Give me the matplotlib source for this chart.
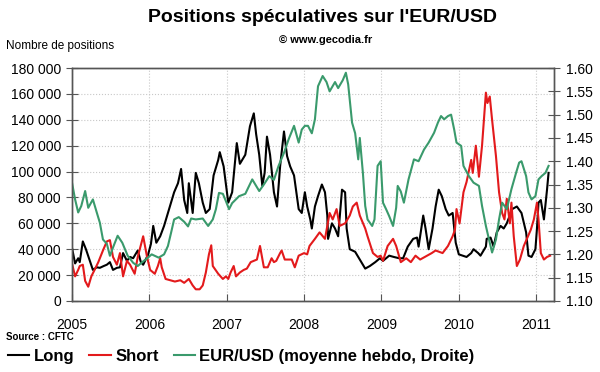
import matplotlib
matplotlib.use("Agg")
from matplotlib import pyplot as plt
from matplotlib.ticker import FuncFormatter, FixedLocator

plt.rcParams["font.family"] = ["Liberation Sans", "DejaVu Sans"]

# Long positions (milliers de contrats)
long_t = [2005.00, 2005.04, 2005.08, 2005.10, 2005.14, 2005.18, 2005.22, 2005.27, 2005.32, 2005.36,
          2005.41, 2005.45, 2005.49, 2005.53, 2005.58, 2005.62, 2005.66, 2005.71, 2005.75, 2005.79,
          2005.83, 2005.85, 2005.89, 2005.92, 2005.96, 2005.98, 2006.02, 2006.05, 2006.09, 2006.14,
          2006.19, 2006.24, 2006.28, 2006.32, 2006.37, 2006.41, 2006.45, 2006.49, 2006.51, 2006.56,
          2006.60, 2006.64, 2006.69, 2006.73, 2006.78, 2006.83, 2006.89, 2006.91, 2006.96, 2007.02,
          2007.07, 2007.11, 2007.13, 2007.17, 2007.24, 2007.30, 2007.35, 2007.38, 2007.42, 2007.46,
          2007.49, 2007.52, 2007.56, 2007.61, 2007.65, 2007.69, 2007.74, 2007.78, 2007.82, 2007.87,
          2007.93, 2007.97, 2008.01, 2008.04, 2008.08, 2008.10, 2008.14, 2008.18, 2008.23, 2008.27,
          2008.30, 2008.31, 2008.36, 2008.40, 2008.44, 2008.49, 2008.53, 2008.55, 2008.59, 2008.66,
          2008.72, 2008.79, 2008.85, 2008.92, 2008.98, 2009.02, 2009.10, 2009.16, 2009.23, 2009.28,
          2009.30, 2009.34, 2009.41, 2009.46, 2009.48, 2009.54, 2009.57, 2009.61, 2009.66, 2009.70,
          2009.74, 2009.78, 2009.83, 2009.87, 2009.92, 2009.96, 2010.00, 2010.05, 2010.10, 2010.16,
          2010.19, 2010.25, 2010.28, 2010.35, 2010.36, 2010.41, 2010.45, 2010.49, 2010.54, 2010.58,
          2010.62, 2010.69, 2010.75, 2010.81, 2010.87, 2010.90, 2010.94, 2010.99, 2011.01, 2011.03,
          2011.06, 2011.10, 2011.14, 2011.16]
long_v = [41, 29, 33, 30, 46, 40, 33, 24, 26, 25.6,
          27, 28, 30, 24, 25.6, 26, 37, 31, 34, 33,
          37, 39, 30, 28, 33, 35, 44, 58, 45, 50,
          58, 68, 76, 84, 91, 102, 78, 68, 91, 68,
          99, 91, 76, 68, 71, 97, 109, 115, 104, 76,
          84, 109, 122, 106, 113, 135, 145, 129, 113, 89,
          99, 127, 113, 84, 73, 104, 131, 112, 104, 97,
          71, 68, 84, 73, 63, 56, 73, 81, 90, 84,
          66, 48, 60, 56, 50, 86, 84, 56, 40, 38,
          32, 25, 27, 30, 33, 31, 35, 34, 33, 33,
          36, 42, 48, 49, 42, 66, 56, 40, 56, 73,
          86, 81, 71, 66, 68, 45, 36, 35, 34, 37,
          40, 37, 35, 42, 48, 49, 42, 53, 58, 56,
          60, 71, 73, 68, 53, 35, 34, 40, 56, 76,
          78, 63, 86, 99]

# Short positions
short_t = [2005.00, 2005.04, 2005.08, 2005.10, 2005.14, 2005.17, 2005.21, 2005.25, 2005.30, 2005.34,
           2005.40, 2005.45, 2005.49, 2005.53, 2005.58, 2005.62, 2005.66, 2005.71, 2005.75, 2005.81,
           2005.85, 2005.92, 2005.97, 2006.01, 2006.07, 2006.11, 2006.14, 2006.16, 2006.21, 2006.27,
           2006.33, 2006.40, 2006.45, 2006.49, 2006.51, 2006.56, 2006.60, 2006.65, 2006.69, 2006.73,
           2006.77, 2006.80, 2006.82, 2006.89, 2006.95, 2006.99, 2007.02, 2007.05, 2007.09, 2007.12,
           2007.17, 2007.22, 2007.26, 2007.31, 2007.39, 2007.43, 2007.48, 2007.53, 2007.58, 2007.61,
           2007.64, 2007.69, 2007.71, 2007.75, 2007.84, 2007.88, 2007.93, 2008.00, 2008.04, 2008.07,
           2008.14, 2008.20, 2008.27, 2008.33, 2008.37, 2008.42, 2008.46, 2008.53, 2008.59, 2008.63,
           2008.68, 2008.72, 2008.79, 2008.82, 2008.89, 2008.95, 2008.99, 2009.02, 2009.08, 2009.15,
           2009.19, 2009.25, 2009.32, 2009.38, 2009.44, 2009.50, 2009.59, 2009.65, 2009.70, 2009.79,
           2009.86, 2009.92, 2009.95, 2009.97, 2010.01, 2010.06, 2010.10, 2010.16, 2010.18, 2010.22,
           2010.26, 2010.30, 2010.35, 2010.37, 2010.40, 2010.43, 2010.48, 2010.52, 2010.56, 2010.59,
           2010.62, 2010.66, 2010.68, 2010.71, 2010.75, 2010.79, 2010.84, 2010.88, 2010.93, 2010.97,
           2011.01, 2011.03, 2011.06, 2011.10, 2011.14, 2011.18]
short_v = [29, 19, 24, 27, 28, 15.5, 11, 19, 25, 30,
           39, 46, 47, 34, 28, 37, 19, 31, 28, 21,
           34, 50, 34, 24, 21, 27, 33, 26, 17, 16,
           15, 16, 14, 16, 17, 12, 9, 9, 12, 22,
           36, 43, 27, 21, 17, 19, 17, 22, 27, 19,
           22, 24, 25, 30, 32, 42.5, 26, 26, 33, 30,
           31, 37, 39, 32, 32, 26, 35, 37, 36, 42.5,
           48, 53, 48, 68, 63, 71, 58, 60, 66, 73,
           76, 66, 56, 50, 37, 34, 35, 31, 42.5, 48,
           42.5, 30, 33, 30, 35, 32, 35, 37, 39, 37,
           42.5, 50, 55, 71, 60, 84, 92, 109, 99, 120,
           96, 120, 161, 153, 158, 140, 112, 84, 68, 63,
           79, 60, 76, 50, 27, 32, 42.5, 48, 55, 63,
           76, 63, 37, 32, 34, 35]

# EUR/USD moyenne hebdo (axe de droite)
eur_t = [2005.00, 2005.04, 2005.08, 2005.12, 2005.17, 2005.21, 2005.27, 2005.32, 2005.36, 2005.40,
         2005.45, 2005.49, 2005.54, 2005.59, 2005.65, 2005.72, 2005.79, 2005.85, 2005.92, 2005.96,
         2006.03, 2006.12, 2006.19, 2006.24, 2006.28, 2006.32, 2006.38, 2006.45, 2006.50, 2006.54,
         2006.60, 2006.69, 2006.76, 2006.82, 2006.86, 2006.90, 2006.95, 2006.99, 2007.03, 2007.07,
         2007.16, 2007.24, 2007.33, 2007.42, 2007.48, 2007.55, 2007.61, 2007.67, 2007.74, 2007.80,
         2007.87, 2007.93, 2007.97, 2008.01, 2008.05, 2008.10, 2008.14, 2008.18, 2008.24, 2008.29,
         2008.33, 2008.40, 2008.44, 2008.50, 2008.54, 2008.57, 2008.62, 2008.66, 2008.70, 2008.72,
         2008.76, 2008.79, 2008.82, 2008.88, 2008.91, 2008.95, 2008.99, 2009.02, 2009.06, 2009.10,
         2009.15, 2009.19, 2009.21, 2009.25, 2009.29, 2009.35, 2009.42, 2009.48, 2009.55, 2009.61,
         2009.68, 2009.73, 2009.77, 2009.81, 2009.86, 2009.90, 2009.94, 2009.97, 2010.03, 2010.06,
         2010.13, 2010.19, 2010.26, 2010.30, 2010.35, 2010.39, 2010.43, 2010.48, 2010.52, 2010.56,
         2010.62, 2010.68, 2010.74, 2010.78, 2010.81, 2010.87, 2010.90, 2010.94, 2010.99, 2011.03,
         2011.07, 2011.12, 2011.16]
eur_v = [1.354, 1.318, 1.290, 1.304, 1.336, 1.300, 1.318, 1.290, 1.268, 1.232,
         1.223, 1.197, 1.219, 1.240, 1.225, 1.197, 1.182, 1.175, 1.185, 1.190,
         1.200, 1.193, 1.200, 1.218, 1.246, 1.275, 1.280, 1.270, 1.260, 1.277,
         1.275, 1.277, 1.261, 1.275, 1.297, 1.332, 1.330, 1.314, 1.297, 1.310,
         1.325, 1.330, 1.361, 1.336, 1.350, 1.368, 1.360, 1.390, 1.418, 1.447,
         1.476, 1.440, 1.468, 1.476, 1.476, 1.460, 1.490, 1.561, 1.583, 1.570,
         1.550, 1.570, 1.557, 1.574, 1.590, 1.565, 1.483, 1.460, 1.404, 1.450,
         1.375, 1.304, 1.275, 1.261, 1.275, 1.390, 1.400, 1.311, 1.297, 1.282,
         1.261, 1.300, 1.347, 1.335, 1.311, 1.361, 1.404, 1.400, 1.425, 1.440,
         1.461, 1.483, 1.497, 1.490, 1.497, 1.500, 1.468, 1.440, 1.433, 1.390,
         1.368, 1.354, 1.347, 1.304, 1.261, 1.232, 1.204, 1.232, 1.275, 1.311,
         1.297, 1.340, 1.375, 1.397, 1.400, 1.368, 1.333, 1.318, 1.325, 1.361,
         1.368, 1.375, 1.390]

years = [2005, 2006, 2007, 2008, 2009, 2010, 2011]

fig = plt.figure(figsize=(6.0, 3.72), dpi=100)
ax = fig.add_axes([0.12, 0.191, 0.8033, 0.626])
ax2 = ax.twinx()

l1, = ax.plot(long_t, [v * 1000 for v in long_v], color="black", lw=1.5)
l2, = ax.plot(short_t, [v * 1000 for v in short_v], color="#e31a1c", lw=1.5)
l3, = ax2.plot(eur_t, eur_v, color="#3a9a6c", lw=1.5)

ax.set_xlim(2005, 2011.23)
ax.set_ylim(0, 180000)
ax2.set_ylim(1.10, 1.60)
ax.set_yticks(range(0, 180001, 20000))
ax2.set_yticks([1.10, 1.15, 1.20, 1.25, 1.30, 1.35, 1.40, 1.45, 1.50, 1.55, 1.60])
ax.xaxis.set_major_locator(FixedLocator(years))
ax.set_xticklabels([str(y) for y in years])
ax.yaxis.set_major_formatter(FuncFormatter(lambda v, p: "{:,.0f}".format(v).replace(",", " ")))
ax2.yaxis.set_major_formatter(FuncFormatter(lambda v, p: "%.2f" % v))

ax.grid(True, linestyle=":", color="#c8c8c8", lw=0.8)
ax.tick_params(axis="y", direction="inout", length=8, labelsize=10, pad=4, color="#555555")
ax.tick_params(axis="x", direction="in", length=5, labelsize=10, pad=12, color="#555555")
ax2.tick_params(axis="y", direction="inout", length=8, labelsize=10, pad=5, color="#555555")
for a in (ax, ax2):
    for s in a.spines.values():
        s.set_color("#555555")
        s.set_linewidth(1.0)

fig.text(0.537, 0.952, "Positions spéculatives sur l'EUR/USD", ha="center", va="center",
         fontsize=14, fontweight="bold")
fig.text(0.542, 0.892, "© www.gecodia.fr", ha="center", va="center", fontsize=8, fontweight="bold")
fig.text(0.01, 0.877, "Nombre de positions", ha="left", va="center", fontsize=8.5)
fig.text(0.01, 0.094, "Source : CFTC", ha="left", va="center", fontsize=7, fontweight="bold")

fig.legend([l1, l2, l3], ["Long", "Short", "EUR/USD (moyenne hebdo, Droite)"],
           loc="center left", bbox_to_anchor=(0.013, 0.042), ncol=3, frameon=False,
           prop={"weight": "bold", "size": 12}, handlelength=1.3, handletextpad=0.25,
           columnspacing=0.9, borderaxespad=0, borderpad=0)

fig.savefig("out.png", dpi=100)
